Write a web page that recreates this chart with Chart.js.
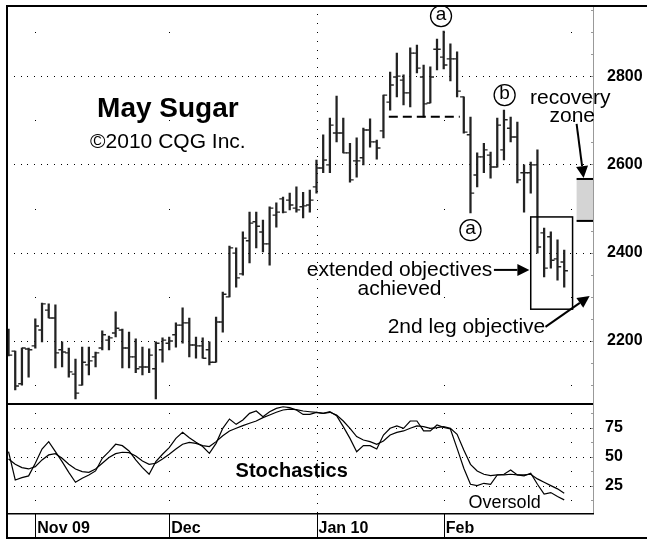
<!DOCTYPE html>
<html><head><meta charset="utf-8">
<script src="https://cdn.jsdelivr.net/npm/chart.js@4/dist/chart.umd.min.js"></script>
<style>html,body{margin:0;padding:0;background:#fff;}#wrap{position:relative;width:647px;height:541px;background:#fff;}</style>
</head><body><div id="wrap"><canvas id="c" width="647" height="541" style="width:647px;height:541px"></canvas></div>
<script>
// ---- data ----
const highs = [2227,2177,2184,2184,2250,2286,2284,2282,2198,2184,
  2159,2186,2186,2175,2223,2211,2266,2227,2220,2205,
  2186,2182,2198,2207,2209,2241,2275,2252,2209,2207,
  2198,2254,2311,2415,2411,2447,2492,2492,2474,2504,
  2513,2526,2535,2549,2537,2542,2610,2667,2705,2755,
  2705,2648,2660,2682,2703,2655,2757,2809,2852,2803,
  2864,2870,2825,2821,2884,2902,2873,2855,2753,2707,
  2626,2648,2628,2705,2723,2707,2696,2599,2605,2633,
  2456,2447,2429,2406];
const lows = [2166,2089,2100,2118,2184,2198,2252,2139,2141,2118,
  2069,2100,2123,2141,2180,2180,2209,2139,2139,2128,
  2123,2128,2069,2152,2180,2186,2195,2164,2161,2161,
  2146,2152,2220,2300,2322,2349,2377,2411,2402,2372,
  2458,2490,2497,2492,2479,2492,2535,2581,2581,2651,
  2626,2560,2571,2599,2639,2612,2660,2723,2753,2735,
  2730,2807,2707,2739,2814,2816,2789,2753,2671,2490,
  2549,2581,2569,2594,2610,2651,2558,2492,2535,2399,
  2345,2365,2338,2322];
const opens = [2202,2177,2103,2182,2189,2225,2270,2252,2180,2173,
  2125,2100,2146,2164,2184,2202,2218,2225,2184,2164,
  2141,2141,2137,2180,2195,2214,2236,2241,2191,2189,
  2180,2152,2243,2300,2399,2352,2427,2470,2447,2420,
  2485,2522,2519,2501,2504,2508,2549,2592,2599,2671,
  2671,2626,2608,2615,2678,2651,2676,2741,2798,2791,
  2762,2852,2798,2739,2861,2843,2839,2839,2753,2667,
  2576,2617,2621,2594,2633,2682,2662,2581,2581,2599,
  2445,2436,2386,2379];
const closes = [2168,2098,2184,2180,2234,2284,2252,2173,2175,2130,
  2082,2152,2155,2173,2214,2207,2229,2184,2164,2137,
  2141,2168,2195,2202,2200,2236,2241,2191,2189,2161,
  2152,2243,2306,2411,2343,2433,2467,2460,2420,2501,
  2492,2492,2508,2497,2506,2519,2592,2610,2689,2671,
  2626,2565,2608,2678,2651,2637,2757,2780,2800,2762,
  2852,2818,2737,2798,2861,2825,2839,2766,2673,2535,
  2617,2633,2594,2689,2701,2662,2565,2581,2599,2413,
  2365,2383,2368,2359];
const stochK = [54.3,29.9,31.9,33.4,44.3,56.6,63,54.3,45.7,36.5,
  27.9,31.4,34.2,37.7,48.6,54.3,60.7,59.5,54.9,47.2,
  40.6,34.8,45.7,52.1,57.8,65.8,71,66.4,62.4,58.7,
  52.9,61.5,74.5,82.5,77.9,81.7,87.4,89.4,84.5,88.8,
  91.7,93.1,92.3,90.3,86.5,86.5,88.3,87.4,88.8,85.4,
  75.9,65.8,54.3,59.5,59.5,56.6,68.7,74.5,76.5,74.5,
  80.8,80.8,72.2,72.2,77.3,75.3,73.9,57.2,40,26.2,
  25,27,26.2,34.2,34.8,38.5,34.2,33.4,35.7,26.2,
  17.6,19,15.6,12.7];
const stochD = [48,43.4,40.6,39.4,41.4,47.2,51.5,52.6,48.6,43.4,
  39.4,37.1,36.5,39.4,44.3,49.2,52.6,53.8,53.5,50.6,
  46.3,43.4,44.3,48,52.1,56.6,60.7,62.4,61.5,59.5,
  58.7,63,68.1,72.2,74.5,76.8,78.8,80.8,83.7,86,
  88.3,90.3,91.1,90.6,89.4,88.8,88.3,87.4,88.3,86,
  80.8,74.5,67.3,64.4,63,60.7,63.5,68.7,71,72.2,
  74.5,76.5,75.9,74.5,75,75.9,74.5,69.3,55.8,43.4,
  37.7,34.8,33.7,34.2,34.2,34.8,34.2,34.2,34.8,30.8,
  27.9,25,22.2,18.4];
const priceTicks = [2200, 2400, 2600, 2800];
const stochTicks = [25, 50, 75];
const monthLabels = ['Nov 09', 'Dec', 'Jan 10', 'Feb'];
const monthStarts = [4, 24, 46, 65];
const gridMonths = [4, 24, 46, 65, 84];
const yearStart = 46;

// ---- build ----
const FONT = '"Liberation Sans", Arial, Helvetica, sans-serif';
const idx = highs.map((_, i) => i);

function arrow(ctx, x1, y1, x2, y2, head, half) {
  const a = Math.atan2(y2 - y1, x2 - x1);
  const bx = x2 - head * Math.cos(a), by = y2 - head * Math.sin(a);
  ctx.beginPath(); ctx.moveTo(x1, y1); ctx.lineTo(bx, by); ctx.lineWidth = 2; ctx.stroke();
  ctx.beginPath(); ctx.moveTo(x2, y2);
  ctx.lineTo(bx - half * Math.sin(a), by + half * Math.cos(a));
  ctx.lineTo(bx + half * Math.sin(a), by - half * Math.cos(a));
  ctx.closePath(); ctx.fill();
}
function circ(ctx, x, y, r, t) {
  ctx.beginPath(); ctx.arc(x, y, r, 0, Math.PI * 2); ctx.lineWidth = 1.3; ctx.stroke();
  ctx.font = '19px ' + FONT; ctx.textAlign = 'center'; ctx.textBaseline = 'middle';
  ctx.fillText(t, x, y - 1);
  ctx.textBaseline = 'alphabetic';
}
const noPad = s => { s.paddingTop = 0; s.paddingBottom = 0; s.paddingLeft = 0; s.paddingRight = 0; };

const decor = {
  id: 'decor',
  beforeDatasetsDraw(chart) {
    const {ctx, chartArea: a, scales} = chart;
    const xs = scales.x, ys = scales.y, ss = scales.y2;
    ctx.save();
    ctx.fillStyle = '#000';
    const dotRow = (yp) => {
      for (let v = -0.2; v < 100; v += 1) {
        const xp = xs.getPixelForValue(v);
        if (xp > a.right - 2) break;
        if (xp >= a.left + 1) ctx.fillRect(Math.round(xp), Math.round(yp), 1, 1);
      }
    };
    priceTicks.forEach(p => dotRow(ys.getPixelForValue(p)));
    stochTicks.forEach(s => dotRow(ss.getPixelForValue(s)));
    gridMonths.forEach(m => {
      const xp = Math.round(xs.getPixelForValue(m));
      if (m === yearStart) {
        for (let p = 2060; p < 2960; p += 20) ctx.fillRect(xp, Math.round(ys.getPixelForValue(p)), 1, 1);
        for (let s = 2.5; s < 96; s += 7.5) ctx.fillRect(xp, Math.round(ss.getPixelForValue(s)), 1, 1);
      } else {
        for (let p = 2100; p < 2960; p += 200) ctx.fillRect(xp, Math.round(ys.getPixelForValue(p)), 1, 1);
        for (let s = 12.5; s < 96; s += 25) ctx.fillRect(xp, Math.round(ss.getPixelForValue(s)), 1, 1);
      }
    });
    ctx.restore();
  },
  afterDraw(chart) {
    const {ctx, chartArea: a, scales} = chart;
    const xs = scales.x, ys = scales.y, ss = scales.y2;
    const X = v => xs.getPixelForValue(v), Y = v => ys.getPixelForValue(v), S = v => ss.getPixelForValue(v);
    ctx.save();
    ctx.fillStyle = '#000'; ctx.strokeStyle = '#000';
    // right axis line with small ticks
    ctx.fillStyle = '#999';
    ctx.fillRect(a.right, a.top, 1, a.bottom - a.top);
    for (let p = 2100; p < 2960; p += 50) ctx.fillRect(a.right - 2, Math.round(Y(p)), 2, 1);
    for (let s = 12.5; s < 96; s += 12.5) ctx.fillRect(a.right - 2, Math.round(S(s)), 2, 1);
    ctx.fillStyle = '#000';
    // frame
    ctx.fillRect(6, 5, 641, 2);
    ctx.fillRect(6, 5, 2, 534);
    ctx.fillRect(6, 537, 641, 2);
    const sep = Math.round(ys.bottom);
    ctx.fillRect(7, sep - 1, a.right - 7, 2);
    ctx.fillRect(7, Math.round(a.bottom) - 1, a.right - 6, 1.5);
    monthStarts.forEach(m => { const xp = Math.round(X(m)); ctx.fillRect(xp, a.bottom, 1, 537 - a.bottom); });

    // titles
    ctx.textAlign = 'center'; ctx.textBaseline = 'alphabetic';
    ctx.font = 'bold 28px ' + FONT; ctx.fillText('May Sugar', X(23.8), Y(2707));
    ctx.font = '21px ' + FONT; ctx.fillText('\u00a92010 CQG Inc.', X(23.8), Y(2637));

    // circled labels
    circ(ctx, X(64.6), Y(2936), 10.5, 'a');
    circ(ctx, X(74.1), Y(2757), 10.5, 'b');
    circ(ctx, X(69.0), Y(2451), 10.5, 'a');

    // dashed support line
    ctx.beginPath(); ctx.setLineDash([9, 5]); ctx.lineWidth = 2;
    ctx.moveTo(X(56.8), Y(2708)); ctx.lineTo(X(67.4), Y(2708)); ctx.stroke();
    ctx.setLineDash([]);

    // recovery zone
    ctx.fillStyle = '#d4d4d4';
    ctx.fillRect(X(84.85), Y(2567), a.right - X(84.85), Y(2472) - Y(2567));
    ctx.fillStyle = '#000';
    ctx.fillRect(X(84.85), Y(2567) - 1, a.right - X(84.85), 2);
    ctx.fillRect(X(84.85), Y(2472) - 1, a.right - X(84.85), 2);
    ctx.font = '21px ' + FONT; ctx.textAlign = 'center';
    ctx.fillText('recovery', X(83.9), Y(2737));
    ctx.fillText('zone', X(84.2), Y(2697));
    arrow(ctx, X(84.85), Y(2692), X(85.9), Y(2569), 12, 6);

    // objective box
    ctx.lineWidth = 1.5;
    ctx.strokeRect(X(78.0), Y(2481), X(84.25) - X(78.0), Y(2272) - Y(2481));

    // objective texts
    ctx.fillText('extended objectives', X(58.4), Y(2347));
    ctx.fillText('achieved', X(58.4), Y(2304));
    arrow(ctx, X(72.5), Y(2361), X(77.8), Y(2361), 12, 6);
    ctx.fillText('2nd leg objective', X(68.4), Y(2218));
    arrow(ctx, X(80.2), Y(2232), X(86.8), Y(2302), 12, 6);

    // stochastics labels
    ctx.font = 'bold 20px ' + FONT; ctx.fillText('Stochastics', X(42.3), S(32.5));
    ctx.font = '18px ' + FONT; ctx.fillText('Oversold', X(74.1), S(5.8));
    ctx.restore();
  }
};

const barColor = '#222';
new Chart(document.getElementById('c'), {
  type: 'scatter',
  data: {
    datasets: [
      { type: 'bar', yAxisID: 'y', data: idx.map(i => ({x: i, y: [lows[i], highs[i]]})),
        backgroundColor: barColor, borderWidth: 0, barThickness: 1.6, grouped: false },
      { type: 'scatter', yAxisID: 'y', data: idx.map(i => ({x: i - 0.27, y: opens[i]})),
        pointStyle: 'line', pointRadius: 1.9, pointHoverRadius: 1.9, pointBorderWidth: 1.4, pointBorderColor: barColor, showLine: false },
      { type: 'scatter', yAxisID: 'y', data: idx.map(i => ({x: i + 0.27, y: closes[i]})),
        pointStyle: 'line', pointRadius: 1.9, pointHoverRadius: 1.9, pointBorderWidth: 1.4, pointBorderColor: barColor, showLine: false },
      { type: 'line', yAxisID: 'y2', data: idx.map(i => ({x: i, y: stochK[i]})),
        borderColor: '#000', borderWidth: 1.2, pointRadius: 0, tension: 0, fill: false },
      { type: 'line', yAxisID: 'y2', data: idx.map(i => ({x: i, y: stochD[i]})),
        borderColor: '#000', borderWidth: 1.2, pointRadius: 0, tension: 0, fill: false }
    ]
  },
  options: {
    responsive: false, animation: false, devicePixelRatio: 1,
    layout: { padding: { left: 8, top: 6, right: 0, bottom: 0 } },
    plugins: { legend: { display: false }, tooltip: { enabled: false } },
    events: [],
    scales: {
      x: { type: 'linear', min: -0.08, max: 87.3, offset: false, bounds: 'data', position: 'bottom',
        grid: { display: false, drawTicks: false, offset: false }, border: { display: false },
        afterBuildTicks: s => { s.ticks = monthStarts.map(v => ({value: v})); },
        afterFit: s => { s.height = 27; noPad(s); },
        ticks: { autoSkip: false, maxRotation: 0, minRotation: 0, align: 'start', labelOffset: 2, padding: 5,
          color: '#000', font: { family: FONT, size: 16, weight: 'bold' },
          callback: (v, i) => monthLabels[i] } },
      y: { type: 'linear', position: 'right', stack: 'panes', stackWeight: 397.5, min: 2058.4, max: 2958.8,
        grid: { display: false, drawTicks: false }, border: { display: false },
        afterBuildTicks: s => { s.ticks = priceTicks.map(v => ({value: v})); },
        afterFit: s => { s.width = 54; noPad(s); },
        ticks: { padding: 14, color: '#000', font: { family: FONT, size: 16, weight: 'bold' }, callback: v => String(v) } },
      y2: { type: 'linear', position: 'right', stack: 'panes', stackWeight: 110.5, min: 0.5, max: 95.9,
        grid: { display: false, drawTicks: false }, border: { display: false },
        afterBuildTicks: s => { s.ticks = stochTicks.map(v => ({value: v})); },
        afterFit: s => { s.width = 54; noPad(s); },
        ticks: { padding: 12, color: '#000', font: { family: FONT, size: 16, weight: 'bold' }, callback: v => String(v) } }
    }
  },
  plugins: [decor]
});
</script></body></html>
